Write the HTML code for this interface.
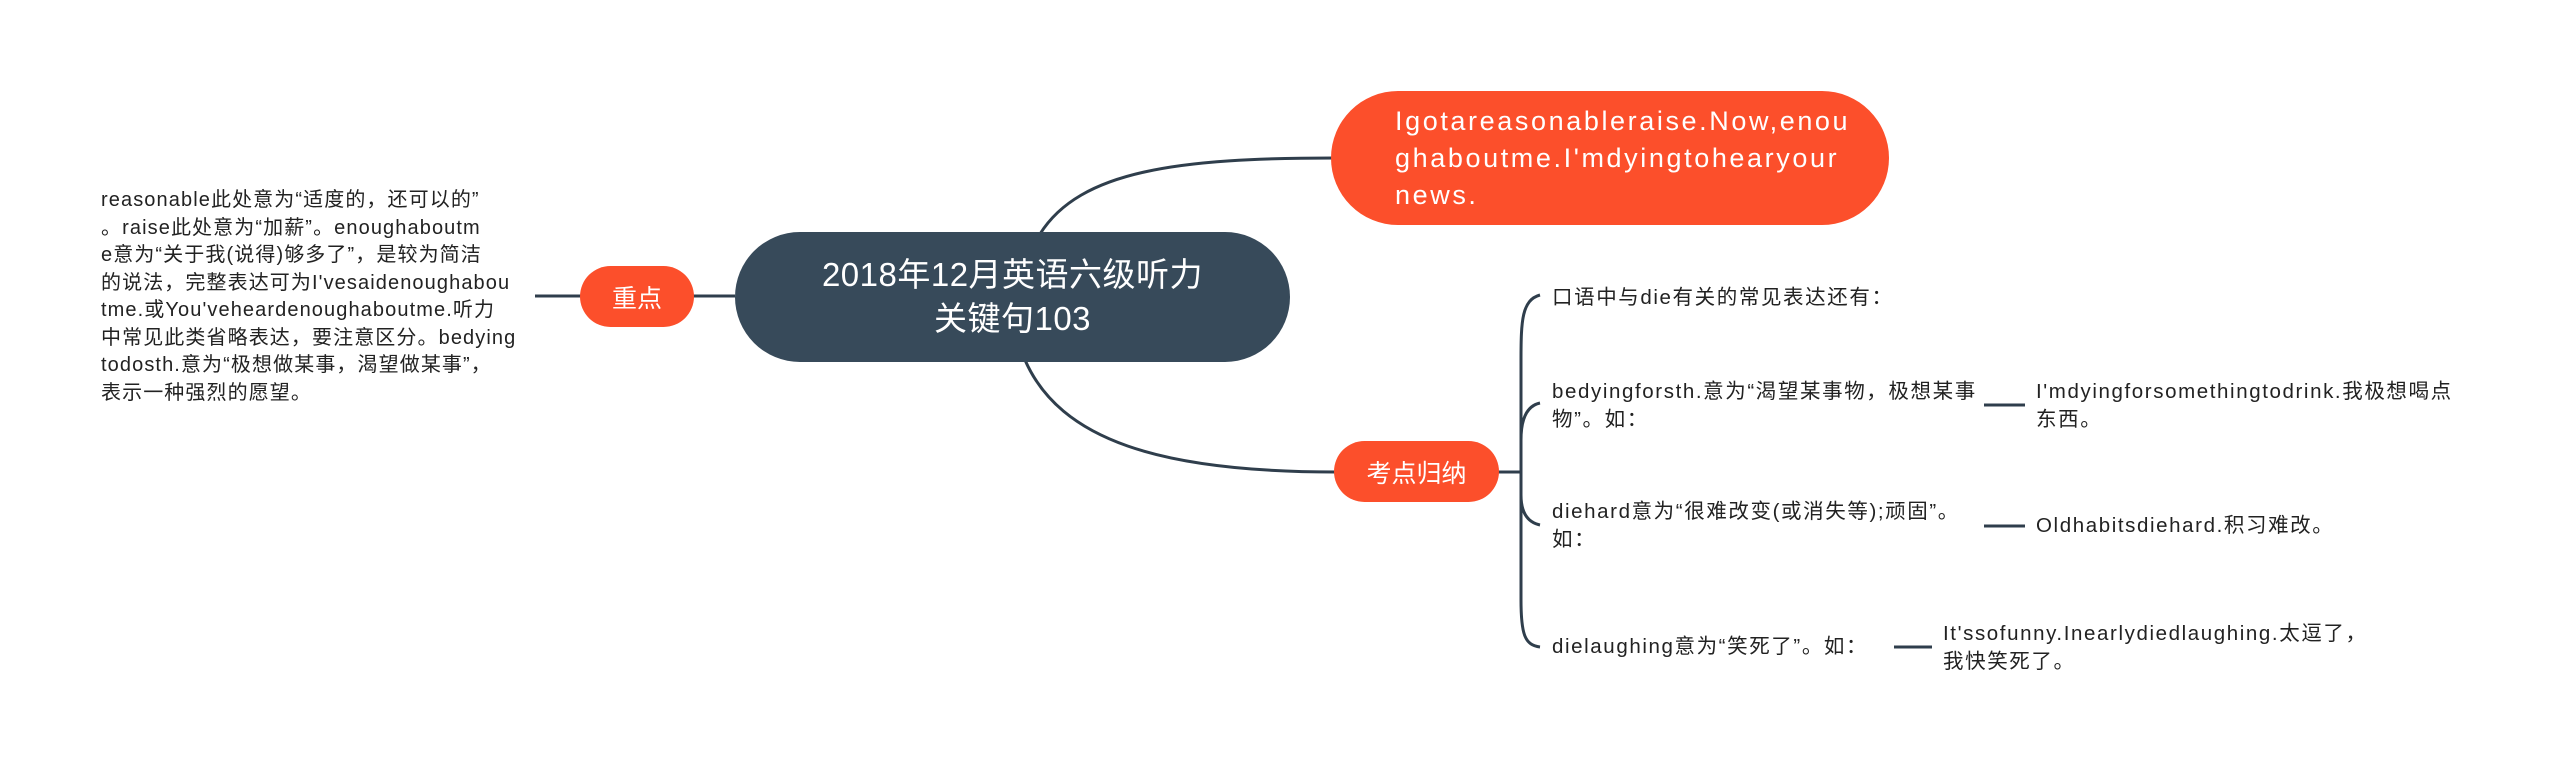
<!DOCTYPE html>
<html><head><meta charset="utf-8"><style>
html,body{margin:0;padding:0;background:#fff;}
body{width:2560px;height:775px;position:relative;overflow:hidden;font-family:"Liberation Sans","Noto Sans CJK SC",sans-serif;}
.t{position:absolute;color:#222;font-size:20.5px;line-height:28px;white-space:nowrap;letter-spacing:1.6px;}
.node{position:absolute;display:flex;align-items:center;justify-content:center;color:#fff;text-align:center;}
</style></head><body>
<svg width="2560" height="775" style="position:absolute;left:0;top:0" fill="none" stroke="#2f3e4c" stroke-width="3">
<path d="M1040 234 C1080 170,1180 158,1335 158"/>
<path d="M1025 360 C1060 440,1160 472,1336 472"/>
<path d="M535 296 L735 296"/>
<path d="M1495 472 L1521 472"/>
<path d="M1540 295 C1522 300,1521 320,1521 360 L1521 600 C1521 635,1525 645,1540 647"/>
<path d="M1540 403 C1526 406,1521 420,1521 440"/>
<path d="M1540 525 C1526 522,1521 510,1521 495"/>
<path d="M1984 405 L2025 405"/>
<path d="M1984 526 L2025 526"/>
<path d="M1894 647 L1932 647"/>
</svg>
<div class="node" style="left:735px;top:232px;width:555px;height:130px;border-radius:65px;background:#374a5a;font-size:33px;line-height:44px;letter-spacing:0.5px;">2018年12月英语六级听力<br>关键句103</div>
<div class="node" style="left:1331px;top:91px;width:558px;height:134px;border-radius:67px;background:#fc4f2b;font-size:27px;line-height:37px;justify-content:flex-start;text-align:left;letter-spacing:2.6px;"><div style="padding-left:64px">Igotareasonableraise.Now,enou<br>ghaboutme.I'mdyingtohearyour<br>news.</div></div>
<div class="node" style="left:580px;top:266px;width:114px;height:61px;border-radius:31px;background:#fc4f2b;font-size:25px;">重点</div>
<div class="node" style="left:1334px;top:441px;width:165px;height:61px;border-radius:31px;background:#fc4f2b;font-size:25px;">考点归纳</div>
<div class="t" style="left:101px;top:187px;line-height:27.5px;font-size:20px;letter-spacing:1.1px;">reasonable此处意为“适度的，还可以的”<br>。raise此处意为“加薪”。enoughaboutm<br>e意为“关于我(说得)够多了”，是较为简洁<br>的说法，完整表达可为I'vesaidenoughabou<br>tme.或You'veheardenoughaboutme.听力<br>中常见此类省略表达，要注意区分。bedying<br>todosth.意为“极想做某事，渴望做某事”，<br>表示一种强烈的愿望。</div>
<div class="t" style="left:1552px;top:284px;">口语中与die有关的常见表达还有：</div>
<div class="t" style="left:1552px;top:378px;">bedyingforsth.意为“渴望某事物，极想某事<br>物”。如：</div>
<div class="t" style="left:2036px;top:378px;">I'mdyingforsomethingtodrink.我极想喝点<br>东西。</div>
<div class="t" style="left:1552px;top:498px;">diehard意为“很难改变(或消失等);顽固”。<br>如：</div>
<div class="t" style="left:2036px;top:512px;">Oldhabitsdiehard.积习难改。</div>
<div class="t" style="left:1552px;top:633px;">dielaughing意为“笑死了”。如：</div>
<div class="t" style="left:1943px;top:620px;">It'ssofunny.Inearlydiedlaughing.太逗了，<br>我快笑死了。</div>
</body></html>
